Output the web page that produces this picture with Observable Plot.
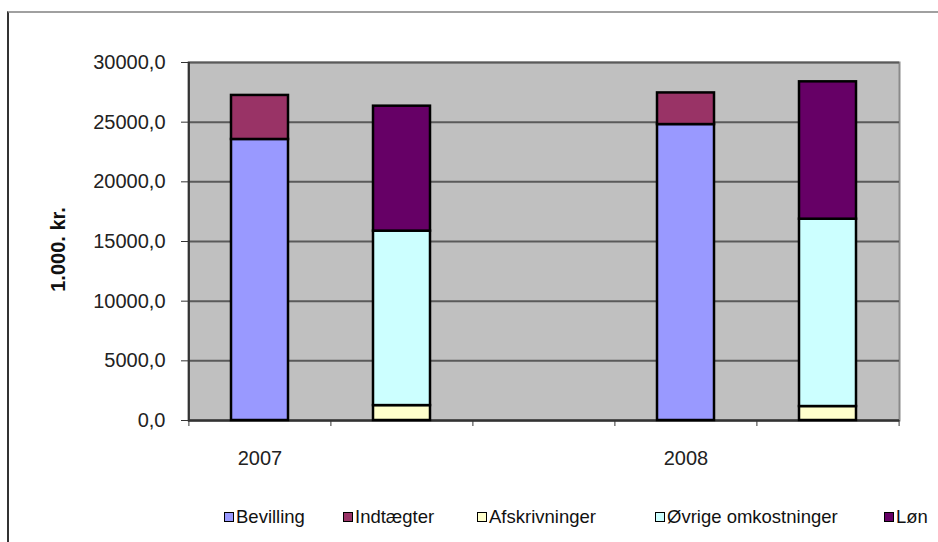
<!DOCTYPE html>
<html>
<head>
<meta charset="utf-8">
<script src="https://cdn.jsdelivr.net/npm/d3@7"></script>
<script src="https://cdn.jsdelivr.net/npm/@observablehq/plot@0.6"></script>
<style>
  html, body { margin: 0; padding: 0; background: #fff; }
  #wrap { position: relative; width: 938px; height: 542px; overflow: hidden; font-family: "Liberation Sans", Arial, sans-serif; }
  #border { position: absolute; left: 7px; top: 11px; width: 1000px; height: 600px; border-top: 2px solid #a0a0a0; border-left: 2px solid #333; }
  #chart { position: absolute; left: 0; top: 0; }
  #legend { position: absolute; left: 0; top: 506px; width: 938px; height: 24px; font-size: 18.5px; color: #111; }
  .item { position: absolute; top: 0; white-space: nowrap; display: flex; align-items: center; }
  .sw { display: inline-block; width: 8px; height: 8px; border: 1.5px solid #000; margin-right: 2px; }
</style>
</head>
<body>
<div id="wrap">
  <div id="border"></div>
  <div id="chart"></div>
  <div id="legend"></div>
</div>
<script>
// ---- Data ----
const categoryKeys = ["2007 indtægter", "2007 udgifter", "tom", "2008 indtægter", "2008 udgifter"];
const tickLabels = ["2007", "", "", "2008", ""];
const series = ["Bevilling", "Indtægter", "Afskrivninger", "Øvrige omkostninger", "Løn"];
const colors = ["#9999FF", "#993366", "#FFFFCC", "#CCFFFF", "#660066"];
const incomeKeys = ["2007 indtægter", "2008 indtægter"];
const expenseKeys = ["2007 udgifter", "2008 udgifter"];
const bevilling = [23550, 24800];
const indtaegter = [3690, 2650];
const afskrivninger = [1250, 1170];
const ovrige = [14620, 15700];
const lon = [10470, 11510];
const yTicks = [0, 5000, 10000, 15000, 20000, 25000, 30000];
const legendX = [224, 343, 477, 655, 884];

// ---- Build table ----
const rows = [];
for (let i = 0; i < 2; i++) {
  rows.push({cat: incomeKeys[i], series: "Bevilling", value: bevilling[i]});
  rows.push({cat: incomeKeys[i], series: "Indtægter", value: indtaegter[i]});
  rows.push({cat: expenseKeys[i], series: "Afskrivninger", value: afskrivninger[i]});
  rows.push({cat: expenseKeys[i], series: "Øvrige omkostninger", value: ovrige[i]});
  rows.push({cat: expenseKeys[i], series: "Løn", value: lon[i]});
}

const W = 938, H = 490, ML = 188, MR = 39, MT = 62, MB = 70;
const step = (W - ML - MR) / categoryKeys.length;
const labelMap = new Map(categoryKeys.map((k, i) => [k, tickLabels[i]]));
const fmt = d => d3.format(".1f")(d).replace(".", ",");

const chart = Plot.plot({
  width: W, height: H,
  marginLeft: ML, marginRight: MR, marginTop: MT, marginBottom: MB,
  style: {fontFamily: "'Liberation Sans', Arial, sans-serif", fontSize: "20px", background: "transparent", color: "#222", overflow: "visible"},
  x: {domain: categoryKeys, paddingInner: 0.6, paddingOuter: 0.3, axis: null, label: null},
  y: {domain: [0, 30000], axis: null, label: null},
  color: {domain: series, range: colors},
  marks: [
    Plot.frame({fill: "#c0c0c0", stroke: "#8a8a8a", strokeWidth: 2}),
    Plot.ruleY(yTicks.filter(d => d > 0), {stroke: "#5a5a5a", strokeWidth: 2}),
    Plot.ruleY([0], {stroke: "#333", strokeWidth: 2.5}),
    Plot.ruleX([categoryKeys[0]], {dx: -step / 2, stroke: "#333", strokeWidth: 2}),
    Plot.barY(rows, {x: "cat", y: "value", fill: "series", stroke: "#000", strokeWidth: 2.5}),
    Plot.axisY({ticks: yTicks, tickSize: 7, tickPadding: 16, tickFormat: fmt, stroke: "#333", fontSize: 20, label: null}),
    Plot.axisX({ticks: categoryKeys, tickSize: 6, dx: -step / 2, tickFormat: () => "", stroke: "#333", label: null}),
    Plot.axisX({ticks: [categoryKeys[categoryKeys.length - 1]], tickSize: 6, dx: step / 2, tickFormat: () => "", stroke: "#333", label: null}),
    Plot.axisX({ticks: categoryKeys, tickSize: 0, tickPadding: 30, tickFormat: d => labelMap.get(d), fontSize: 20, label: null}),
    Plot.text(["1.000. kr."], {frameAnchor: "left", dx: -130, dy: 8, rotate: -90, textAnchor: "middle", fontWeight: "bold", fontSize: 20, fill: "#111"})
  ]
});
document.getElementById("chart").appendChild(chart);

// ---- Legend ----
const legend = document.getElementById("legend");
series.forEach((s, i) => {
  const item = document.createElement("div");
  item.className = "item";
  item.style.left = legendX[i] + "px";
  const sw = document.createElement("span");
  sw.className = "sw";
  sw.style.background = colors[i];
  item.appendChild(sw);
  item.appendChild(document.createTextNode(s));
  legend.appendChild(item);
});
</script>
</body>
</html>
